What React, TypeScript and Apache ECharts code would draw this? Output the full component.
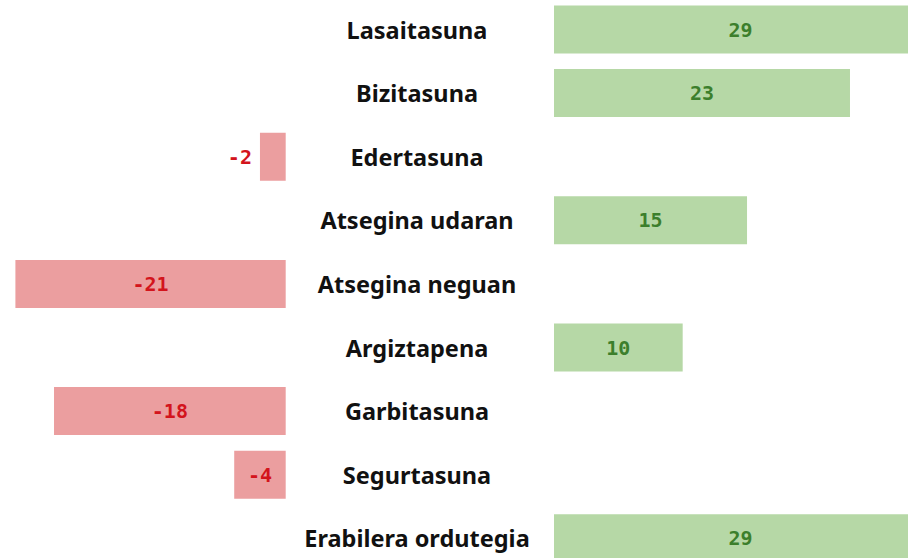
import React, { useEffect, useRef } from "react";
import * as echarts from "echarts";

const categories = [
  "Lasaitasuna",
  "Bizitasuna",
  "Edertasuna",
  "Atsegina udaran",
  "Atsegina neguan",
  "Argiztapena",
  "Garbitasuna",
  "Segurtasuna",
  "Erabilera ordutegia",
];
const values = [29, 23, -2, 15, -21, 10, -18, -4, 29];

const GREEN = "#b6d8a6";
const GREEN_TEXT = "#3c7f2c";
const RED = "#eb9e9f";
const RED_TEXT = "#d3141c";

export default function App() {
  const ref = useRef<HTMLDivElement>(null);
  useEffect(() => {
    if (!ref.current) return;
    const chart = echarts.init(ref.current, null, { renderer: "svg" });
    const posData = values.map((v) => (v > 0 ? v : null));
    const negData = values.map((v) =>
      v < 0
        ? {
            value: v,
            label:
              v > -3
                ? { position: "left", distance: 8 }
                : { position: "inside" },
          }
        : null
    );
    const valueLabel = (color: string) => ({
      show: true,
      position: "inside",
      color,
      fontFamily: "'DejaVu Sans Mono', 'Liberation Mono', monospace",
      fontWeight: "bold",
      fontSize: 20,
    });
    chart.setOption({
      animation: false,
      grid: [
        {
          left: 15.4,
          width: 270.3,
          top: -2.3,
          height: 572.4,
          containLabel: false,
          outerBoundsMode: "none",
        },
        {
          left: 554,
          width: 373.2,
          top: -2.3,
          height: 572.4,
          containLabel: false,
          outerBoundsMode: "none",
        },
      ],
      xAxis: [
        { gridIndex: 0, type: "value", min: -21, max: 0, show: false },
        { gridIndex: 1, type: "value", min: 0, max: 29, show: false },
      ],
      yAxis: [
        {
          gridIndex: 0,
          type: "category",
          data: categories,
          inverse: true,
          show: false,
        },
        {
          gridIndex: 1,
          type: "category",
          data: categories,
          inverse: true,
          axisLine: { show: false },
          axisTick: { show: false },
          splitLine: { show: false },
          axisLabel: {
            align: "center",
            margin: 137,
            color: "#111111",
            fontFamily: "'Noto Sans', sans-serif",
            fontWeight: "bold",
            fontSize: 23.5,
          },
        },
      ],
      series: [
        {
          type: "bar",
          xAxisIndex: 0,
          yAxisIndex: 0,
          data: negData,
          barWidth: 48,
          itemStyle: { color: RED },
          label: valueLabel(RED_TEXT),
        },
        {
          type: "bar",
          xAxisIndex: 1,
          yAxisIndex: 1,
          data: posData,
          barWidth: 48,
          itemStyle: { color: GREEN },
          label: valueLabel(GREEN_TEXT),
        },
      ],
    });
    return () => chart.dispose();
  }, []);
  return (
    <div
      ref={ref}
      style={{ position: "fixed", left: 0, top: 0, width: 908, height: 558, background: "#ffffff" }}
    />
  );
}
